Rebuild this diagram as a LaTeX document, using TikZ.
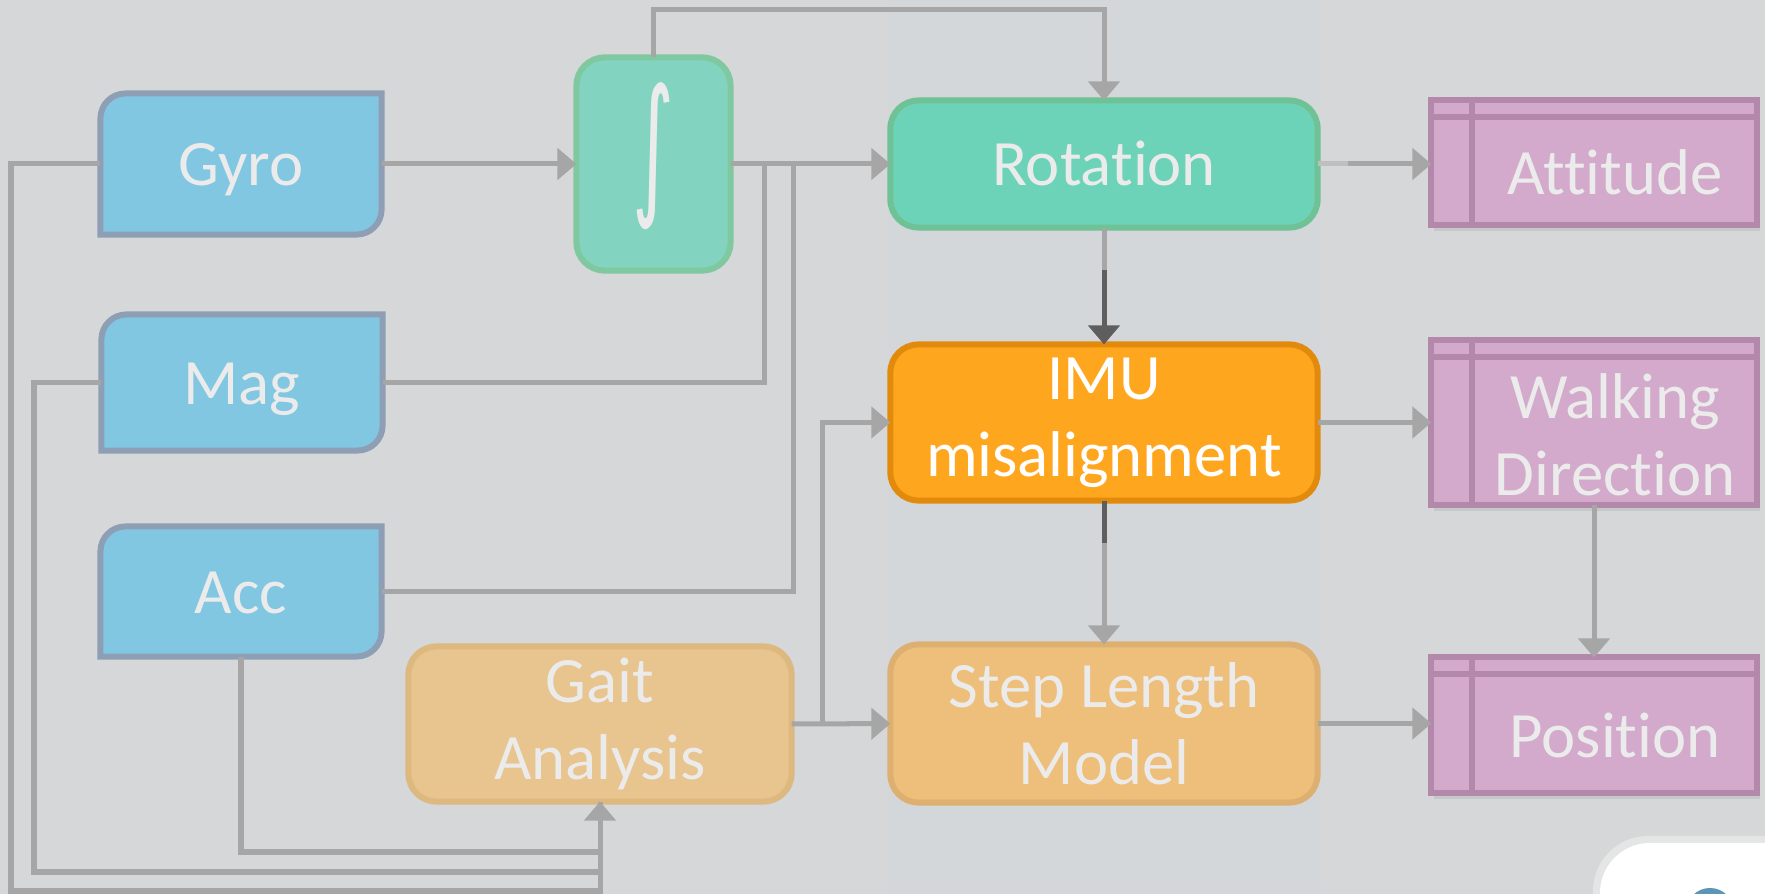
\documentclass[tikz,border=0pt]{standalone}
\usepackage{fontspec}
\usepackage{graphicx}
\setmainfont{Carlito}[Ligatures={NoCommon,NoContextual}]
\newfontfamily\intfont{DejaVu Sans}
\usetikzlibrary{arrows.meta,shadows}
\pgfdeclarelayer{bg}
\pgfsetlayers{bg,main}
\definecolor{paper}{HTML}{D6D7D9}
\definecolor{band}{HTML}{D3D7DA}
\definecolor{wiregray}{HTML}{A6A6A6}
\definecolor{wiredark}{HTML}{5E5E5E}
\definecolor{wirelight}{HTML}{BFBFBF}
\definecolor{txt}{HTML}{EBEBEB}
\definecolor{sensfill}{HTML}{82C7E2}
\definecolor{sensline}{HTML}{8E9FB5}
\definecolor{intfill}{HTML}{82D3C0}
\definecolor{intline}{HTML}{80C8A0}
\definecolor{rotfill}{HTML}{6DD3B8}
\definecolor{rotline}{HTML}{6FC196}
\definecolor{imufill}{HTML}{FFA61F}
\definecolor{imuline}{HTML}{E28A0B}
\definecolor{stepfill}{HTML}{EDBF7B}
\definecolor{stepline}{HTML}{DDB071}
\definecolor{gaitfill}{HTML}{E8C48E}
\definecolor{gaitline}{HTML}{DDB87F}
\definecolor{storefill}{HTML}{D3AACB}
\definecolor{storeline}{HTML}{B388AB}
\definecolor{halo}{HTML}{E4E5E5}
\definecolor{logoblue}{HTML}{5D96B5}

\begin{document}
\begin{tikzpicture}[x=0.01cm,y=0.01cm,line width=0.5mm,
  font=\fontsize{18.4}{21.9}\selectfont,
  wire/.style={draw=wiregray,line width=0.5mm},
  flow/.style={wire,-{Triangle[length=1.9mm,width=3.1mm]}},
  box/.style={inner sep=0pt,outer sep=0pt,text=txt,align=center},
  capc/.style={text height=12.4pt,text depth=0pt},
  sens/.style={draw=sensline,fill=sensfill,line width=0.6mm},
  blk/.style={box,draw,rounded corners=2.8mm,line width=0.6mm,minimum width=4.27cm},
  store/.style={box,draw=storeline,fill=storefill,line width=0.6mm,minimum width=3.25cm,
    drop shadow={shadow xshift=0.3mm,shadow yshift=-0.6mm,opacity=0.18}}]
% sensor box: round top-left and bottom-right corners only
\newcommand{\sensorshape}[1]{\draw[sens] (#1.south west) -- ([yshift=-2.5mm]#1.north west)
  arc[start angle=180,end angle=90,radius=2.5mm] -- (#1.north east)
  -- ([yshift=2.5mm]#1.south east) arc[start angle=0,end angle=-90,radius=2.5mm] -- cycle;}
% header and side rule of the output boxes
\newcommand{\storelines}[1]{\draw[draw=storeline,line width=0.6mm]
  ([yshift=-1.7mm]#1.north west) -- ([yshift=-1.7mm]#1.north east)
  ([xshift=4.05mm]#1.north west) -- ([xshift=4.05mm]#1.south west);}
\useasboundingbox (0,0) rectangle (1765,-894);
\begin{pgfonlayer}{bg}
  \fill[paper] (0,0) rectangle (1765,-894);
  \fill[band] (888,0) rectangle (1320,-894);
\end{pgfonlayer}
% ---------- sensors ----------
\node[box,capc,minimum width=2.81cm,minimum height=1.41cm] (gyro) at (241,-164) {Gyro};
\node[box,capc,minimum width=2.81cm,minimum height=1.36cm] (mag) at (242,-382.5) {Mag};
\node[box,capc,minimum width=2.81cm,minimum height=1.30cm] (acc) at (241,-591.5) {Acc};
\begin{pgfonlayer}{bg}
  \foreach \s in {gyro,mag,acc}{\sensorshape{\s}}
\end{pgfonlayer}
% ---------- processing ----------
\node[blk,draw=intline,fill=intfill,minimum width=1.54cm,minimum height=2.13cm,
  label={[box,yshift=0.75mm]center:\resizebox*{0.42cm}{1.47cm}{\intfont ∫}}] (intg)
  at (653.5,-164) {};
\node[blk,capc,draw=rotline,fill=rotfill,minimum height=1.27cm] (rot) at (1104,-164) {Rotation};
\node[blk,draw=imuline,fill=imufill,text=white,minimum height=1.56cm] (imu)
  at (1104,-422.5) {IMU\\misalignment};
\node[blk,draw=stepline,fill=stepfill,minimum height=1.58cm] (step)
  at (1104,-723.5) {Step Length\\Model};
\node[blk,draw=gaitline,fill=gaitfill,minimum width=3.83cm,minimum height=1.55cm] (gait)
  at (600,-724) {Gait\\Analysis};
% ---------- outputs ----------
\node[store,minimum height=1.24cm,
  label={[box,capc,xshift=2.1mm,yshift=-1.0mm]center:Attitude}] (att) at (1594,-162.5) {};
\node[store,minimum height=1.64cm,
  label={[box,xshift=2.1mm,yshift=-1.2mm]center:{Walking\\Direction}}] (walk) at (1594,-422.5) {};
\node[store,minimum height=1.35cm,
  label={[box,capc,xshift=2.1mm,yshift=-1.1mm]center:Position}] (pos) at (1594,-725) {};
\foreach \s in {att,walk,pos}{\storelines{\s}}
% ---------- connectors ----------
\coordinate (top) at (0,-10);
\coordinate (ja) at (764,-164);
\coordinate (jb) at (793,-164);
\coordinate (jc) at (822,-724);
\coordinate (la) at (11,-891);
\coordinate (lb) at (34,-872);
\coordinate (lc) at (600,-852);
\draw[flow] (gyro) -- (intg);
\draw[flow] (intg.north) -- (intg.north |- top) -| (rot.north);
\draw[flow] (intg) -- (rot);
\draw[wire] (mag) -| (ja);
\draw[wire] (acc) -| (jb);
\draw[flow] (rot.east) -- (rot.east -| att.west);
\draw[wirelight,line width=0.5mm] (rot.east) -- ++(30,0);
\draw[flow,draw=wiredark] (rot) -- (imu);
\draw[wire] (rot.south) -- ++(0,-42);
\draw[flow] (imu) -- (walk);
\draw[flow] (imu) -- (step);
\draw[wire,draw=wiredark] (imu.south) -- ++(0,-42);
\draw[flow] (walk) -- (pos);
\draw[flow] (step.east) -- (step.east -| pos.west);
\draw[flow] (gait) -- (step);
\draw[flow] (jc) |- (imu);
\draw[wire] (acc) |- (lc);
\draw[wire] (mag) -| (lb) -| (gait);
\draw[flow] (gyro) -| (la) -| (gait);
% logo corner
\fill[halo,rounded corners=5.5mm] (1593,-836) rectangle (1830,-960);
\fill[white,rounded corners=5mm] (1600,-843) rectangle (1830,-960);
\fill[logoblue] (1710,-912) circle[radius=2.4mm];
\end{tikzpicture}
\end{document}
